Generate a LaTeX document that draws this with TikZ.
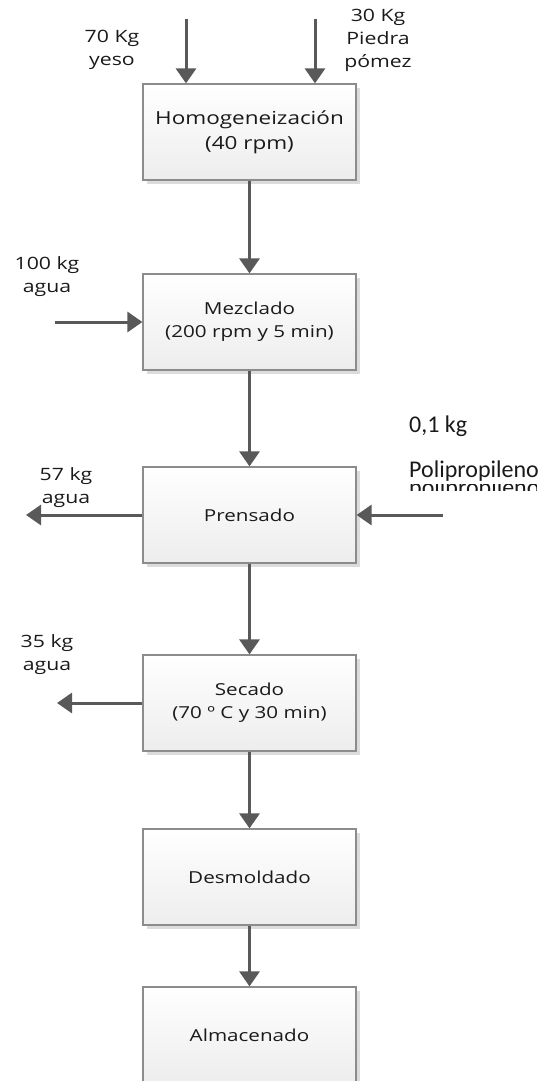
\documentclass[tikz,border=0pt]{standalone}
\usepackage{fontspec}
\setmainfont[FakeStretch=1.25]{Open Sans}
\newfontfamily\calfont{Carlito}
\usetikzlibrary{arrows.meta,shadows}
\definecolor{Ink}{HTML}{1A1A1A}
\definecolor{FlowC}{HTML}{595959}
\definecolor{EdgeC}{HTML}{8C8C8C}
\definecolor{ShadeC}{HTML}{DCDCDC}
\definecolor{BoxBot}{HTML}{EDEDED}

\begin{document}
\begin{tikzpicture}[x=1pt, y=-1pt,
    proc/.style={draw=EdgeC, line width=1.2pt, top color=white, bottom color=BoxBot, minimum width=213pt, minimum height=96pt, align=center, text=Ink, font=\fontsize{16.5}{23}\selectfont, drop shadow={shadow xshift=4pt, shadow yshift=-4pt, fill=ShadeC, opacity=1}},
    lbl/.style={align=center, text=Ink, font=\fontsize{17}{23}\selectfont},
    pplbl/.style={anchor=base west, inner sep=0pt, text=Ink, font=\calfont\fontsize{24}{28}\selectfont},
    flow/.style={draw=FlowC, line width=3pt, -{Triangle[length=15pt, width=20pt]}}]
  \useasboundingbox (0,0) rectangle (549,1081);
  \node[proc, font=\fontsize{18}{25}\selectfont] (homog) at (249.5,132) {Homogeneización\\(40 rpm)};
  \node[proc] (mezcla) at (249.5,322) {Mezclado\\(200 rpm y 5 min)};
  \node[proc] (prensa) at (249.5,515) {Prensado};
  \node[proc] (secado) at (249.5,703) {Secado\\(70 º C y 30 min)};
  \node[proc] (desmol) at (249.5,877) {Desmoldado};
  \node[proc] (almac) at (249.5,1035) {Almacenado};

  \node[lbl] (yeso) at (112,50) {70 Kg\\yeso};
  \node[lbl] (pomez) at (378,40) {30 Kg\\Piedra\\pómez};
  \node[lbl] (agua1) at (47,277) {100 kg\\agua};
  \node[lbl] (agua2) at (66,488) {57 kg\\agua};
  \node[lbl] (agua3) at (47,655) {35 kg\\agua};
  \node[pplbl] (ppkg) at (409,432) {0,1 kg};
  \node[pplbl] (pp) at (409,477) {Polipropileno};
  \begin{scope}
    \clip (405,484.5) rectangle (536,490.5);
    \node[pplbl] (ppcut) at (409,495) {\smash{polipropileno}};
  \end{scope}

  \coordinate (in1) at (186,19);
  \coordinate (in2) at (315,19);
  \coordinate (in3) at (55,322);
  \coordinate (in4) at (443,515);
  \coordinate (out1) at (26,515);
  \coordinate (out2) at (57,703);
  \draw[flow] (in1) -- (in1 |- homog.north);
  \draw[flow] (in2) -- (in2 |- homog.north);
  \draw[flow] (homog.south) -- (mezcla.north);
  \draw[flow] (in3) -- (mezcla.west);
  \draw[flow] (mezcla.south) -- (prensa.north);
  \draw[flow] (prensa.west) -- (out1);
  \draw[flow] (in4) -- (prensa.east);
  \draw[flow] (prensa.south) -- (secado.north);
  \draw[flow] (secado.west) -- (out2);
  \draw[flow] (secado.south) -- (desmol.north);
  \draw[flow] (desmol.south) -- (almac.north);
\end{tikzpicture}
\end{document}
